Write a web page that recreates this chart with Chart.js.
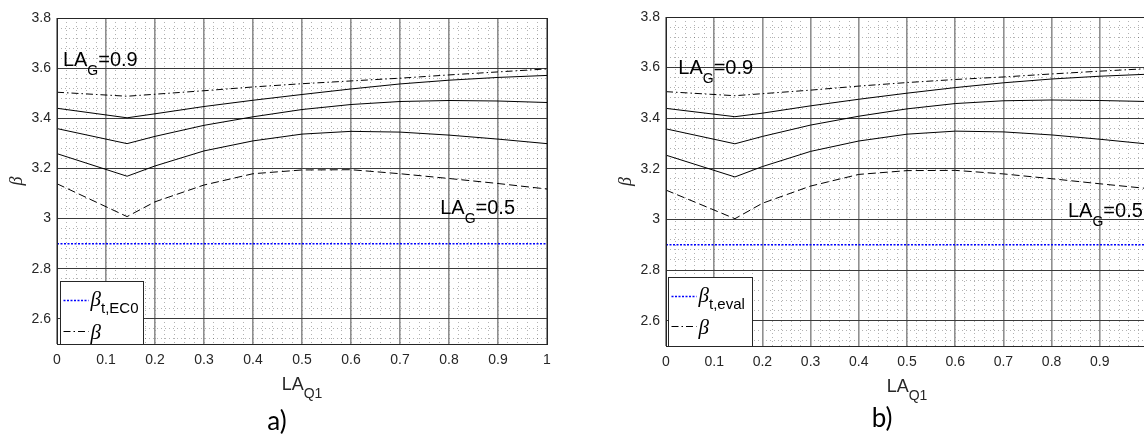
<!DOCTYPE html>
<html>
<head>
<meta charset="utf-8">
<script src="https://cdn.jsdelivr.net/npm/chart.js@4.4.0/dist/chart.umd.min.js"></script>
<style>
  html, body { margin: 0; padding: 0; background: #fff; overflow: hidden; width: 1144px; height: 434px; }
  .panel { position: absolute; top: 0; }
  #wrapA { left: 0; }
  #wrapB { left: 609px; }
</style>
</head>
<body>
<div class="panel" id="wrapA"><canvas id="chartA" width="572" height="434"></canvas></div>
<div class="panel" id="wrapB"><canvas id="chartB" width="564" height="434"></canvas></div>
<script>
/*
    Reliability index beta vs load ratio LA_Q1, panels a) and b)
*/
var laQ1 = [0, 0.143, 0.2, 0.3, 0.4, 0.5, 0.6, 0.7, 0.8, 0.9, 1.0];
var laEnds = [0, 1];

// panel a)
var betaG09A = [3.504, 3.488, 3.496, 3.510, 3.525, 3.538, 3.549, 3.560, 3.573, 3.585, 3.597];
var betaS1A  = [3.440, 3.402, 3.418, 3.447, 3.472, 3.495, 3.517, 3.537, 3.552, 3.563, 3.571];
var betaS2A  = [3.359, 3.299, 3.328, 3.372, 3.406, 3.435, 3.455, 3.467, 3.471, 3.469, 3.463];
var betaS3A  = [3.259, 3.169, 3.210, 3.270, 3.310, 3.337, 3.348, 3.345, 3.333, 3.317, 3.299];
var betaG05A = [3.139, 3.008, 3.067, 3.134, 3.179, 3.194, 3.195, 3.179, 3.160, 3.140, 3.118];
var betaTargetA = [2.9, 2.9];

// panel b)
var betaG09B = [3.505, 3.489, 3.497, 3.511, 3.527, 3.541, 3.553, 3.563, 3.575, 3.586, 3.596];
var betaS1B  = [3.439, 3.406, 3.420, 3.449, 3.475, 3.499, 3.521, 3.540, 3.555, 3.566, 3.574];
var betaS2B  = [3.358, 3.299, 3.328, 3.373, 3.408, 3.437, 3.458, 3.469, 3.472, 3.470, 3.466];
var betaS3B  = [3.254, 3.168, 3.209, 3.269, 3.310, 3.337, 3.349, 3.346, 3.334, 3.317, 3.298];
var betaG05B = [3.116, 3.003, 3.064, 3.132, 3.178, 3.193, 3.194, 3.180, 3.161, 3.141, 3.122];
var betaTargetB = [2.9, 2.9];

var xTicks = [0, 0.1, 0.2, 0.3, 0.4, 0.5, 0.6, 0.7, 0.8, 0.9, 1];
var xTickLabels = ['0', '0.1', '0.2', '0.3', '0.4', '0.5', '0.6', '0.7', '0.8', '0.9', '1'];
var yTicks = [2.6, 2.8, 3.0, 3.2, 3.4, 3.6, 3.8];
var yTickLabels = ['2.6', '2.8', '3', '3.2', '3.4', '3.6', '3.8'];

var minorX = [];
for (var i = 0; i <= 50; i++) minorX.push(+(i * 0.02).toFixed(2));
var minorY = [];
for (var j = 0; j <= 32; j++) minorY.push(+(2.52 + j * 0.04).toFixed(2));

var SANS = 'Liberation Sans, Arial, sans-serif';
var SERIF = 'Liberation Serif, Times New Roman, serif';

function pts(xs, ys) {
    return xs.map(function (x, k) { return { x: x, y: ys[k] }; });
}

function drawRich(ctx, x, y, parts, align) {
    var w = 0;
    parts.forEach(function (p) { ctx.font = p.font; w += ctx.measureText(p.text).width; });
    var cx = align === 'center' ? x - w / 2 : x;
    parts.forEach(function (p) {
        ctx.font = p.font;
        ctx.fillText(p.text, cx, y + (p.dy || 0));
        cx += ctx.measureText(p.text).width;
    });
}

var panelPlugin = {
    id: 'panel',
    afterDatasetsDraw: function (chart, args, opts) {
        var ctx = chart.ctx, a = chart.chartArea;
        var xs = chart.scales.x, ys = chart.scales.y;
        ctx.save();
        ctx.textBaseline = 'alphabetic';
        ctx.fillStyle = '#000';

        // LA_G annotations
        opts.notes.forEach(function (n) {
            drawRich(ctx, xs.getPixelForValue(n.x), ys.getPixelForValue(n.y), [
                { text: 'LA', font: '20px ' + SANS },
                { text: 'G', font: '14px ' + SANS, dy: 9 },
                { text: n.text, font: '20px ' + SANS }
            ]);
        });

        // legend box
        var L = opts.legend;
        var lx = Math.round(a.left + L.dx) + 0.5, ly = Math.round(a.bottom - L.h) + 0.5;
        ctx.fillStyle = '#fff';
        ctx.fillRect(lx, ly, L.w, L.h);
        ctx.strokeStyle = '#262626';
        ctx.lineWidth = 1;
        ctx.strokeRect(lx, ly, L.w, L.h);

        var y1 = ly + L.row1, y2 = ly + L.row2;
        ctx.lineWidth = 1.5;
        ctx.strokeStyle = '#0000ff';
        ctx.setLineDash([2, 1.5]);
        ctx.beginPath(); ctx.moveTo(lx + 3, y1); ctx.lineTo(lx + 28, y1); ctx.stroke();
        ctx.lineWidth = 1;
        ctx.strokeStyle = '#000';
        ctx.setLineDash([7, 3, 1.5, 3]);
        ctx.beginPath(); ctx.moveTo(lx + 3, y2); ctx.lineTo(lx + 28, y2); ctx.stroke();
        ctx.setLineDash([]);

        ctx.fillStyle = '#000';
        drawRich(ctx, lx + 30, y1 + 5, [
            { text: 'β', font: 'italic 21px ' + SERIF },
            { text: L.sub, font: '15px ' + SANS, dy: 7 }
        ]);
        drawRich(ctx, lx + 30, y2 + 7, [{ text: 'β', font: 'italic 21px ' + SERIF }]);

        // axes box
        ctx.strokeStyle = '#262626';
        ctx.lineWidth = 1;
        ctx.strokeRect(Math.round(a.left) + 0.5, Math.round(a.top) + 0.5,
            Math.round(a.right - a.left), Math.round(a.bottom - a.top));

        // x axis title and panel letter
        var mid = (a.left + a.right) / 2;
        ctx.fillStyle = '#262626';
        drawRich(ctx, mid, a.bottom + 46, [
            { text: 'LA', font: '18px ' + SANS },
            { text: 'Q1', font: '14px ' + SANS, dy: 8 }
        ], 'center');
        ctx.fillStyle = '#000';
        ctx.textAlign = 'center';
        ctx.font = '26px Lato, Open Sans, sans-serif';
        ctx.fillText(opts.letter, mid - 25, opts.letterY);
        ctx.restore();
    }
};

function makeChart(id, series, cfg) {
    var ctxP = document.getElementById(id).getContext('2d');
    return new Chart(ctxP, {
        type: 'line',
        data: {
            datasets: [
                { data: pts(laQ1, series[0]), borderColor: '#000', borderWidth: 1, borderDash: [7, 3, 1.5, 3] },
                { data: pts(laQ1, series[1]), borderColor: '#000', borderWidth: 1 },
                { data: pts(laQ1, series[2]), borderColor: '#000', borderWidth: 1 },
                { data: pts(laQ1, series[3]), borderColor: '#000', borderWidth: 1 },
                { data: pts(laQ1, series[4]), borderColor: '#000', borderWidth: 1, borderDash: [8, 4] },
                { data: pts(laEnds, series[5]), borderColor: '#0000ff', borderWidth: 1.5, borderDash: [2, 1.5] }
            ].map(function (d) {
                d.xAxisID = 'x'; d.yAxisID = 'y';
                d.pointRadius = 0; d.tension = 0; d.fill = false;
                return d;
            })
        },
        options: {
            responsive: false,
            animation: false,
            events: [],
            layout: { padding: { left: 0, right: 25, top: cfg.top, bottom: 0 } },
            plugins: {
                legend: { display: false },
                tooltip: { enabled: false },
                panel: cfg.panel
            },
            scales: {
                x: {
                    type: 'linear', position: 'bottom', min: 0, max: 1,
                    afterBuildTicks: function (s) { s.ticks = xTicks.map(function (v) { return { value: v }; }); },
                    afterFit: function (s) { s.height = cfg.xHeight; },
                    ticks: {
                        autoSkip: false, maxRotation: 0, padding: 8, color: '#262626',
                        font: { family: SANS, size: 14 },
                        callback: function (v, k) { return xTickLabels[k]; }
                    },
                    grid: { color: '#8f8f8f', lineWidth: 1.6, drawTicks: false },
                    border: { color: '#262626' }
                },
                y: {
                    type: 'linear', position: 'left', min: 2.5, max: 3.8,
                    afterBuildTicks: function (s) { s.ticks = yTicks.map(function (v) { return { value: v }; }); },
                    afterFit: function (s) { s.width = 57; },
                    ticks: {
                        padding: 6, color: '#262626',
                        font: { family: SANS, size: 14 },
                        callback: function (v, k) { return yTickLabels[k]; }
                    },
                    grid: { color: '#3a3a3a', lineWidth: 1, drawTicks: false },
                    border: { color: '#262626' },
                    title: {
                        display: true, text: 'β', color: '#262626',
                        font: { family: SERIF, size: 18, style: 'italic' },
                        padding: { top: 6, bottom: 0 }
                    }
                },
                xMinor: {
                    type: 'linear', position: 'bottom', min: 0, max: 1,
                    afterBuildTicks: function (s) { s.ticks = minorX.map(function (v) { return { value: v }; }); },
                    afterFit: function (s) { s.height = 0; },
                    ticks: { display: false },
                    grid: { color: 'rgba(0,0,0,0.3)', lineWidth: 1, drawTicks: false, z: -2 },
                    border: { display: false, dash: [1, 3] }
                },
                yMinor: {
                    type: 'linear', position: 'left', min: 2.5, max: 3.8,
                    afterBuildTicks: function (s) { s.ticks = minorY.map(function (v) { return { value: v }; }); },
                    afterFit: function (s) { s.width = 0; },
                    ticks: { display: false },
                    grid: { color: 'rgba(0,0,0,0.3)', lineWidth: 1, drawTicks: false, z: -2 },
                    border: { display: false, dash: [1, 3] }
                }
            }
        },
        plugins: [panelPlugin]
    });
}

makeChart('chartA', [betaG09A, betaS1A, betaS2A, betaS3A, betaG05A, betaTargetA], {
    top: 18, xHeight: 90,
    panel: {
        notes: [{ x: 0.012, y: 3.607, text: '=0.9' }, { x: 0.782, y: 3.02, text: '=0.5' }],
        legend: { dx: 3, w: 83, h: 63, row1: 19, row2: 50, sub: 't,EC0' },
        letter: 'a)', letterY: 430
    }
});

makeChart('chartB', [betaG09B, betaS1B, betaS2B, betaS3B, betaG05B, betaTargetB], {
    top: 17, xHeight: 88,
    panel: {
        notes: [{ x: 0.0255, y: 3.574, text: '=0.9' }, { x: 0.834, y: 3.01, text: '=0.5' }],
        legend: { dx: 1.7, w: 84, h: 69, row1: 19, row2: 49, sub: 't,eval' },
        letter: 'b)', letterY: 427
    }
});
</script>
</body>
</html>
